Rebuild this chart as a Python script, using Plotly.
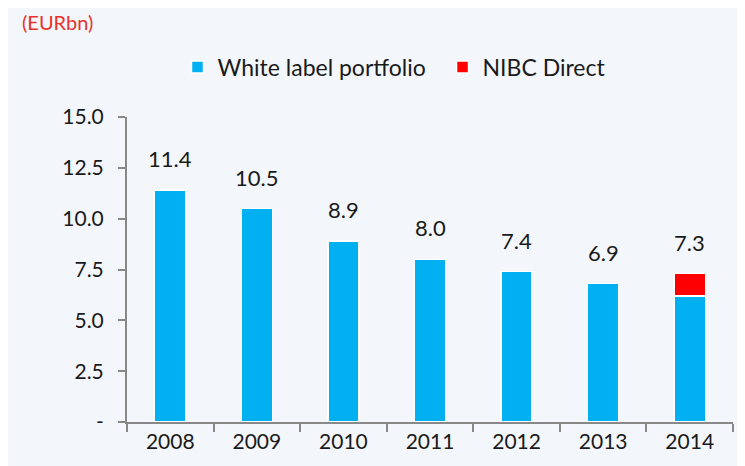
import plotly.graph_objects as go

years = ["2008", "2009", "2010", "2011", "2012", "2013", "2014"]
white_label = [11.4, 10.5, 8.9, 8.0, 7.4, 6.8, 6.2]
nibc_direct = [0, 0, 0, 0, 0, 0, 1.1]
total_labels = [11.4, 10.5, 8.9, 8.0, 7.4, 6.9, 7.3]
y_ticks = [0, 2.5, 5.0, 7.5, 10.0, 12.5, 15.0]
y_ticktext = ["-", "2.5", "5.0", "7.5", "10.0", "12.5", "15.0"]

FONT = "Lato, 'Open Sans', sans-serif"
BG = "#F3F6FA"

# plot area in figure pixels (page body has 8px default margin)
L, T, R, B = 119, 109, 20, 52
PW = 745 - L - R
PH = 466 - T - B

fig = go.Figure()
fig.add_trace(go.Bar(x=years, y=white_label, name="White label portfolio\u00a0\u00a0",
                     marker=dict(color="#00B0F0", line=dict(color="white", width=1.5)),
                     width=0.36))
fig.add_trace(go.Bar(x=years, y=nibc_direct, name="NIBC Direct",
                     marker=dict(color="#FF0000", line=dict(color="white", width=1.5)),
                     width=0.36))

for i, (w, n, lab) in enumerate(zip(white_label, nibc_direct, total_labels)):
    fig.add_annotation(x=i, y=w + n, text=f"{lab:.1f}", showarrow=False,
                       yanchor="bottom", yshift=16,
                       font=dict(family=FONT, size=22, color="#1a1a1a"))

fig.add_annotation(xref="paper", yref="paper", x=(12 - L) / PW, y=(PH + T - 14) / PH,
                   xanchor="left", yanchor="middle", text="(EURbn)", showarrow=False,
                   font=dict(family=FONT, size=20, color="#E8322B"))

fig.update_layout(
    width=745, height=466,
    margin=dict(l=L, r=R, t=T, b=B),
    paper_bgcolor=BG, plot_bgcolor=BG,
    barmode="stack",
    showlegend=True,
    legend=dict(orientation="h", x=(386 - L) / PW, xanchor="center",
                y=(PH + T - 59) / PH, yanchor="middle",
                font=dict(family=FONT, size=23, color="#1a1a1a"),
                bgcolor="rgba(0,0,0,0)", itemwidth=30, traceorder="normal"),
    font=dict(family=FONT, size=20, color="#1a1a1a"),
    xaxis=dict(type="category", range=[-0.5, 6.5], autorange=False,
               tickson="boundaries", ticks="outside", ticklen=8,
               tickcolor="#888888", tickwidth=2, showline=True, linecolor="#888888",
               linewidth=2, showgrid=False, tickfont=dict(size=21), zeroline=False,
               tickangle=0),
    yaxis=dict(range=[0, 15], autorange=False, tickvals=y_ticks, ticktext=y_ticktext,
               ticks="outside", ticklen=7, tickcolor="#888888", tickwidth=2, showline=True,
               linecolor="#888888", linewidth=2, showgrid=False, zeroline=False,
               tickfont=dict(size=21), ticklabelstandoff=10),
)

fig.write_html("out.html")
